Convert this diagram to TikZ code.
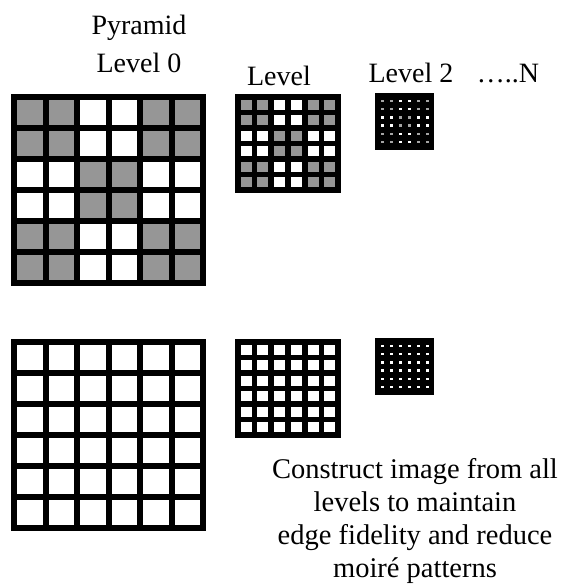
\documentclass[tikz,border=0pt]{standalone}
\usepackage{fontspec}
\setmainfont{Liberation Serif}
\definecolor{cellgray}{RGB}{150,150,150}
\definecolor{dotgray}{RGB}{165,165,165}
\newcommand\mkgrid[6]{% x0, y0, pitch x, pitch y, line width, shaded (1/0)
  \fill[black] (#1,#2) rectangle ++({6*#3+#5},{6*#4+#5});
  \foreach \gr in {0,...,5}{
    \foreach \gc in {0,...,5}{
      \pgfmathtruncatemacro\gridR{(\gr>1)*(\gr<4)}
      \pgfmathtruncatemacro\gridC{(\gc>1)*(\gc<4)}
      \pgfmathtruncatemacro\gridG{#6*(\gridR==\gridC)}
      \ifnum\gridG=1 \def\gridcol{cellgray}\else\def\gridcol{white}\fi
      \fill[\gridcol] ({#1+#5+\gc*#3},{#2+#5+\gr*#4}) rectangle ++({#3-#5},{#4-#5});
    }
  }
}
\newcommand\mkdots[3]{% x0, y0, shaded
  \fill[black] (#1,#2) rectangle ++(59,57);
  \foreach \gr in {0,...,5}{
    \foreach \gc in {0,...,5}{
      \pgfmathtruncatemacro\gridR{(\gr>1)*(\gr<4)}
      \pgfmathtruncatemacro\gridC{(\gc>1)*(\gc<4)}
      \pgfmathtruncatemacro\gridG{#3*(\gridR==\gridC)}
      \ifnum\gridG=1 \def\gridcol{dotgray}\else\def\gridcol{white}\fi
      \fill[\gridcol] ({#1+7.5+\gc*9-1.4},{#2+7.75+\gr*8.3-1.2}) rectangle ++(2.8,2.4);
    }
  }
}
\begin{document}
\begin{tikzpicture}[x=1pt,y=-1pt,
  lbl/.style={font=\fontsize{28}{33}\selectfont, inner sep=0pt, anchor=base},
  note/.style={font=\fontsize{28.5}{33}\selectfont, inner sep=0pt, align=center, anchor=north}]
\useasboundingbox (0,0) rectangle (569,586);
% top row: pyramid levels
\mkgrid{11}{94}{31.5}{31}{6}{1}
\mkgrid{235}{94}{16.7}{15.5}{5.7}{1}
\mkdots{375}{93}{1}
% bottom row: reconstruction
\mkgrid{11}{339}{31.5}{31}{6}{0}
\mkgrid{235}{339}{16.7}{15.5}{5.7}{0}
\mkdots{375}{338}{0}
% labels
\node[lbl] (pyr) at (139,35) {Pyramid};
\node[lbl] (lev0) at (139,73) {Level 0};
\node[lbl] (lev1) at (279,85) {Level};
\node[lbl] (lev2) at (411,82) {Level 2};
\node[lbl] (levn) at (508,82) {…..N};
\node[note] (txt) at (415,458) {Construct image from all\\levels to maintain\\edge fidelity and reduce\\moiré patterns};
\end{tikzpicture}
\end{document}
